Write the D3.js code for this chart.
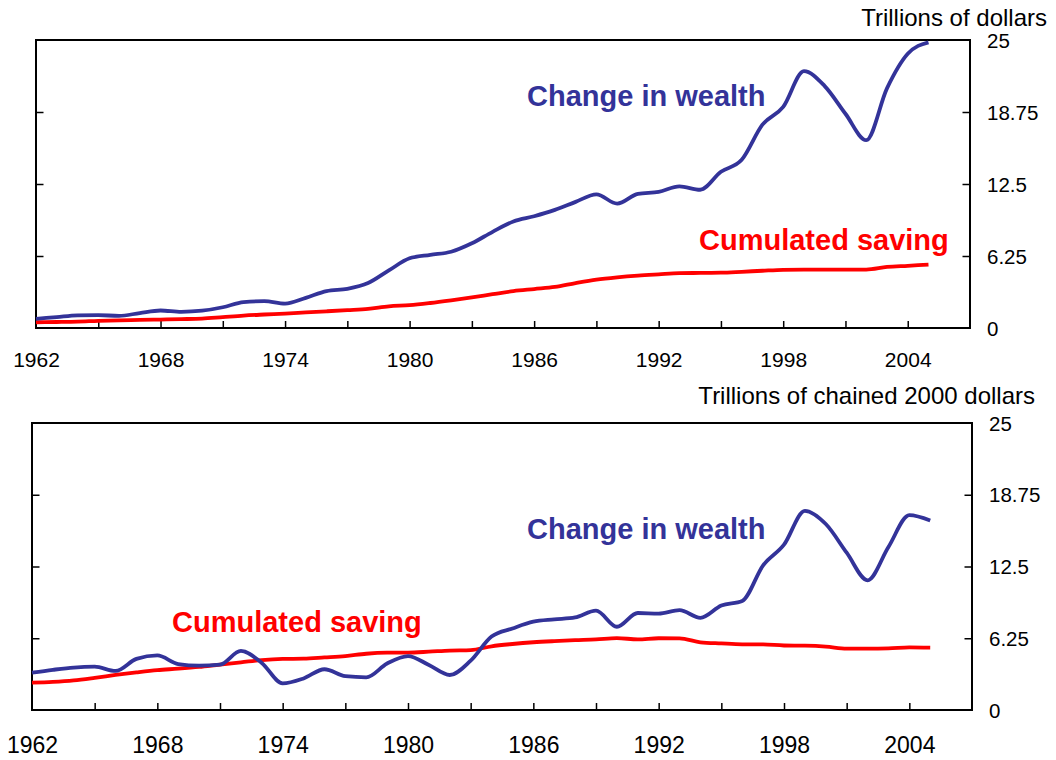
<!DOCTYPE html>
<html>
<head>
<meta charset="utf-8">
<script src="https://d3js.org/d3.v7.min.js"></script>
<style>
  body { margin: 0; background: #fff; }
  svg { display: block; }
  text { font-family: Arial, "Liberation Sans", sans-serif; }
</style>
</head>
<body>
<script>
// annual observations, 1962-2005
var years = [1962, 1963, 1964, 1965, 1966, 1967, 1968, 1969, 1970, 1971,
             1972, 1973, 1974, 1975, 1976, 1977, 1978, 1979, 1980, 1981,
             1982, 1983, 1984, 1985, 1986, 1987, 1988, 1989, 1990, 1991,
             1992, 1993, 1994, 1995, 1996, 1997, 1998, 1999, 2000, 2001,
             2002, 2003, 2004, 2005];

// top panel, trillions of dollars
var nominalWealth = [0.8, 0.95, 1.1, 1.12, 1.05, 1.3, 1.52, 1.4, 1.5, 1.8,
                     2.25, 2.33, 2.12, 2.62, 3.2, 3.4, 3.9, 5.0, 6.05, 6.35,
                     6.62, 7.35, 8.35, 9.25, 9.7, 10.25, 10.95, 11.6, 10.8, 11.65,
                     11.82, 12.3, 12.0, 13.56, 14.6, 17.65, 19.2, 22.3, 21.0, 18.6,
                     16.3, 20.8, 23.8, 24.8];
var nominalSaving = [0.5, 0.52, 0.55, 0.62, 0.67, 0.7, 0.73, 0.77, 0.82, 0.95,
                     1.08, 1.17, 1.25, 1.35, 1.45, 1.55, 1.66, 1.88, 1.98, 2.17,
                     2.4, 2.65, 2.93, 3.2, 3.38, 3.56, 3.9, 4.2, 4.4, 4.55,
                     4.66, 4.76, 4.78, 4.8, 4.88, 4.97, 5.05, 5.07, 5.07, 5.07,
                     5.07, 5.3, 5.4, 5.5];

// bottom panel, trillions of chained 2000 dollars
var realWealth = [3.25, 3.5, 3.7, 3.77, 3.4, 4.45, 4.75, 4.0, 3.86, 3.95,
                  5.15, 4.1, 2.32, 2.75, 3.55, 2.95, 2.85, 4.05, 4.7, 3.92,
                  3.05, 4.3, 6.4, 7.1, 7.69, 7.89, 8.06, 8.65, 7.25, 8.45,
                  8.4, 8.7, 8.03, 9.1, 9.5, 12.6, 14.4, 17.35, 16.2, 13.7,
                  11.3, 14.2, 16.97, 16.5];
var realSaving = [2.38, 2.45, 2.58, 2.8, 3.05, 3.28, 3.48, 3.6, 3.75, 3.96,
                  4.15, 4.35, 4.45, 4.47, 4.58, 4.7, 4.9, 4.99, 5.0, 5.08,
                  5.18, 5.22, 5.55, 5.75, 5.9, 6.0, 6.08, 6.15, 6.26, 6.15,
                  6.25, 6.24, 5.9, 5.8, 5.72, 5.71, 5.62, 5.6, 5.52, 5.35,
                  5.34, 5.36, 5.45, 5.43];

var xLabelYears = [1962, 1968, 1974, 1980, 1986, 1992, 1998, 2004];
var xTickYears = [1965, 1968, 1971, 1974, 1977, 1980, 1983, 1986, 1989, 1992, 1995, 1998, 2001, 2004];
var yLabels = [0, 6.25, 12.5, 18.75, 25];
var yTicks = [6.25, 12.5, 18.75];

var blue = '#333399';
var red = '#ff0000';

var svg = d3.select('body').append('svg').attr('width', 1056).attr('height', 760);

function drawPanel(p) {
  var x = d3.scaleLinear().domain([1962, 2007]).range([p.left, p.right]);
  var y = d3.scaleLinear().domain([0, 25]).range([p.bottom, p.top]);
  var g = svg.append('g');

  // inward ticks on bottom, left and right
  g.append('g').attr('transform', 'translate(0,' + p.bottom + ')')
    .call(d3.axisBottom(x).tickValues(xTickYears).tickSize(-7).tickFormat(''));
  g.append('g').attr('transform', 'translate(' + p.left + ',0)')
    .call(d3.axisLeft(y).tickValues(yTicks).tickSize(-7.5).tickFormat(''));
  g.append('g').attr('transform', 'translate(' + p.right + ',0)')
    .call(d3.axisRight(y).tickValues(yTicks).tickSize(-7.5).tickFormat(''));
  g.selectAll('.domain').remove();
  g.selectAll('.tick line').attr('stroke', '#000').attr('stroke-width', 1.5);

  // x labels
  var xl = g.append('g').attr('transform', 'translate(0,' + p.bottom + ')')
    .call(d3.axisBottom(x).tickValues(xLabelYears).tickSize(0).tickFormat(d3.format('d')));
  xl.select('.domain').remove();
  xl.selectAll('text').attr('y', p.xLabelOffset).attr('dy', 0)
    .attr('fill', '#000').style('font-size', p.xFont + 'px')
    .style('font-family', 'Arial, "Liberation Sans", sans-serif');

  // y labels on the right
  var yl = g.append('g').attr('transform', 'translate(' + p.right + ',0)')
    .call(d3.axisRight(y).tickValues(yLabels).tickSize(0).tickFormat(function (d) { return String(d); }));
  yl.select('.domain').remove();
  yl.selectAll('text').attr('x', 17).attr('dy', '0.35em')
    .attr('fill', '#000').style('font-size', '20.5px')
    .style('font-family', 'Arial, "Liberation Sans", sans-serif');

  // frame
  g.append('rect')
    .attr('x', p.left).attr('y', p.top)
    .attr('width', p.right - p.left).attr('height', p.bottom - p.top)
    .attr('fill', 'none').attr('stroke', '#000').attr('stroke-width', 2);

  var line = d3.line()
    .x(function (d, i) { return x(years[i]); })
    .y(function (d) { return y(d); })
    .curve(d3.curveMonotoneX);

  g.append('path').datum(p.saving)
    .attr('d', line).attr('fill', 'none').attr('stroke', red)
    .attr('stroke-width', 3.8).attr('stroke-linejoin', 'round');
  g.append('path').datum(p.wealth)
    .attr('d', line).attr('fill', 'none').attr('stroke', blue)
    .attr('stroke-width', 3.8).attr('stroke-linejoin', 'round');

  // unit title
  g.append('text').attr('x', p.titleX).attr('y', p.titleY)
    .attr('text-anchor', 'end').style('font-size', '24px').text(p.title);

  // series labels
  g.append('text').attr('x', p.wealthLabel[0]).attr('y', p.wealthLabel[1])
    .attr('fill', blue).style('font-size', '29px').style('font-weight', 'bold')
    .text('Change in wealth');
  g.append('text').attr('x', p.savingLabel[0]).attr('y', p.savingLabel[1])
    .attr('fill', red).style('font-size', '29px').style('font-weight', 'bold')
    .text('Cumulated saving');
}

drawPanel({
  left: 36, right: 970, top: 40, bottom: 328,
  xLabelOffset: 39, xFont: 21,
  wealth: nominalWealth, saving: nominalSaving,
  title: 'Trillions of dollars', titleX: 1047, titleY: 26,
  wealthLabel: [527, 106], savingLabel: [699, 250]
});

drawPanel({
  left: 32, right: 972, top: 423, bottom: 710,
  xLabelOffset: 43, xFont: 23,
  wealth: realWealth, saving: realSaving,
  title: 'Trillions of chained 2000 dollars', titleX: 1035, titleY: 404,
  wealthLabel: [527, 539], savingLabel: [172, 632]
});
</script>
</body>
</html>
